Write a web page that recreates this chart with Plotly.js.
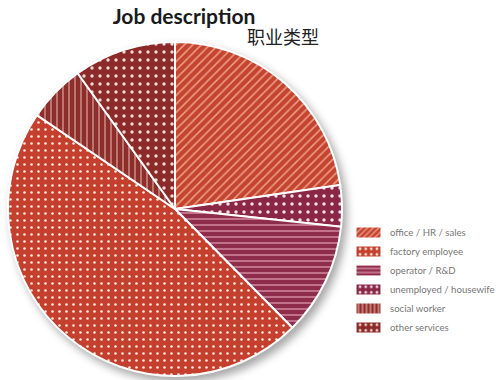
<!DOCTYPE html>
<html>
<head>
<meta charset="utf-8">
<script src="https://cdn.plot.ly/plotly-3.0.1.min.js"></script>
<style>
  html, body { margin: 0; padding: 0; background: #fff; }
  #chart { width: 496px; height: 380px; }
  .pielayer { filter: drop-shadow(4px 5px 4px rgba(0,0,0,0.35)); }
</style>
</head>
<body>
<div id="chart"></div>
<script>
// Categories in legend order
const categories = ['office / HR / sales', 'factory employee', 'operator / R&D', 'unemployed / housewife', 'social worker', 'other services'];
// Share of respondents (%)
const values = [22.7, 46.9, 10.9, 4.0, 5.6, 9.9];
// Order of the slices around the pie, clockwise from 12 o'clock
const sliceOrder = [0, 3, 2, 1, 4, 5];

const titleText = 'Job description';
const subtitleText = '职业类型';

// Styles per category (legend order)
const bgColors = ['#c4452f', '#c43f2e', '#8e2d4b', '#8a2746', '#8e2e2b', '#8b2a29'];
const fgColors = ['#f0a08c', '#fbe9dc', '#e4a0b4', '#f5dce4', '#e6b1ab', '#f3d8d4'];
const shapes   = ['/', '.', '-', '.', '|', '.'];
const sizes    = [6, 7, 6, 8, 6, 8];
const solid    = [0.25, 0.11, 0.2, 0.15, 0.18, 0.14];

const pick = arr => sliceOrder.map(i => arr[i]);

const traces = [{
  type: 'pie',
  labels: pick(categories),
  values: pick(values),
  sort: false,
  direction: 'clockwise',
  rotation: 0,
  textinfo: 'none',
  hoverinfo: 'label+percent',
  showlegend: false,
  domain: { x: [8/496, 342/496], y: [1 - 376/380, 1 - 42/380] },
  marker: {
    colors: pick(bgColors),
    line: { color: '#ffffff', width: 2 },
    pattern: {
      shape: pick(shapes),
      fgcolor: pick(fgColors),
      bgcolor: pick(bgColors),
      size: pick(sizes),
      solidity: pick(solid),
      fillmode: 'replace'
    }
  }
}];

// Legend entries (legend order) – zero-height bars on a hidden axis
categories.forEach((c, i) => {
  traces.push({
    type: 'bar',
    name: c,
    x: [c],
    y: [0],
    xaxis: 'x', yaxis: 'y',
    hoverinfo: 'skip',
    marker: {
      color: bgColors[i],
      line: { width: 0 },
      pattern: {
        shape: shapes[i],
        fgcolor: fgColors[i],
        bgcolor: bgColors[i],
        size: shapes[i] === '.' ? 7 : 5,
        solidity: shapes[i] === '.' ? 0.2 : 0.3,
        fillmode: 'replace'
      }
    }
  });
});

const layout = {
  width: 496, height: 380,
  margin: { l: 0, r: 0, t: 0, b: 0, autoexpand: false },
  paper_bgcolor: '#ffffff',
  plot_bgcolor: 'rgba(0,0,0,0)',
  title: {
    text: '<b>' + titleText + '</b>',
    font: { family: 'Lato, "Open Sans", sans-serif', size: 21, color: '#1a1a1a' },
    x: 184/496, xanchor: 'center', xref: 'container',
    y: 1 - 17/380, yanchor: 'middle', yref: 'container'
  },
  annotations: [{
    text: subtitleText,
    xref: 'paper', yref: 'paper',
    x: 283/496, y: 1 - 36/380,
    xanchor: 'center', yanchor: 'middle',
    showarrow: false,
    font: { family: '"Noto Sans CJK SC", sans-serif', size: 18, color: '#222222' }
  }],
  xaxis: { visible: false, domain: [0, 0.01], fixedrange: true },
  yaxis: { visible: false, domain: [0, 0.01], range: [1, 2], fixedrange: true },
  showlegend: true,
  legend: {
    x: 347/496, xanchor: 'left',
    y: 1 - 218/380, yanchor: 'top',
    bgcolor: 'rgba(0,0,0,0)',
    itemwidth: 33,
    font: { family: 'Lato, "Open Sans", sans-serif', size: 9.6, color: '#777777' },
    traceorder: 'normal',
    itemclick: false, itemdoubleclick: false
  },
  hovermode: false
};

Plotly.newPlot('chart', traces, layout, { displayModeBar: false, staticPlot: true }).then(gd => {
  // widen the legend swatches into flat rectangles like the original
  gd.querySelectorAll('.legend .legendpoints path').forEach(p => {
    p.setAttribute('d', 'M12,5H-12V-5H12Z');
  });
});
</script>
</body>
</html>
